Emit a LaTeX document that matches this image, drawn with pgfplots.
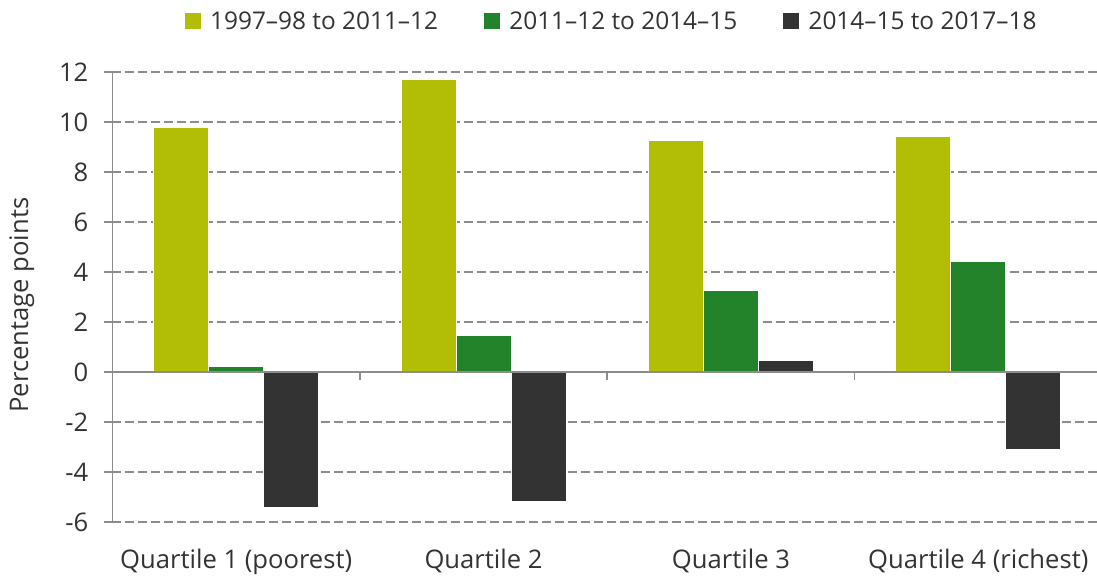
\documentclass[border=0pt]{standalone}
\usepackage{pgfplots}
\pgfplotsset{compat=1.18}
\usepackage{fontspec}
\setmainfont{Open Sans}
\usetikzlibrary{calc}
\definecolor{c1}{HTML}{B2BE06}
\definecolor{c2}{HTML}{23832B}
\definecolor{c3}{HTML}{333333}
\definecolor{gridc}{HTML}{8C8C8C}
\definecolor{txt}{HTML}{333333}
\pgfplotsset{mylegend/.style={legend image code/.code={\fill[##1,draw=none] (0bp,-8bp) rectangle (16bp,8bp); \path (23bp,0bp);}}}
\begin{document}
\begin{tikzpicture}[font=\fontsize{25.7}{30}\selectfont]
\begin{axis}[
  scale only axis, width=984.5bp, height=450bp,
  xmin=-0.5, xmax=3.48, ymin=-6, ymax=12,
  ybar=0pt, bar width=55bp,
  ytick={-6,-4,...,12},
  xtick={0,1,2,3},
  xticklabels={Quartile 1 (poorest),Quartile 2,Quartile 3,Quartile 4 (richest)},
  axis y line*=left, axis x line*=bottom,
  x axis line style={draw=none},
  xtick style={draw=none},
  y axis line style={gridc, line width=1.5bp},
  ytick style={gridc, line width=1.5bp},
  tick align=outside, major tick length=8bp,
  ymajorgrids, grid style={gridc, line width=1.5bp, dash pattern=on 9bp off 4bp},
  /pgf/number format/assume math mode=true,
  tick label style={text=txt},
  yticklabel style={inner sep=0pt, xshift=-16bp},
  xticklabel style={inner sep=0pt, anchor=base, yshift=-38bp},
  ylabel={Percentage points},
  ylabel style={at={(axis description cs:-0.092,0.482)}, anchor=center, text=txt},
  legend columns=3,
  legend style={draw=none, fill=none, at={(axis description cs:0.507,1.113)}, anchor=center,
    font=\fontsize{24.5}{29}\selectfont,
    /tikz/every even column/.append style={column sep=44bp}, text=txt},
  legend cell align=left,
]
\addplot[fill=c1, draw=white, line width=0.6bp, mylegend] coordinates {(0,9.77) (1,11.7) (2,9.26) (3,9.42)};
\addplot[fill=c2, draw=white, line width=0.6bp, mylegend] coordinates {(0,0.22) (1,1.45) (2,3.27) (3,4.41)};
\addplot[fill=c3, draw=white, line width=0.6bp, mylegend] coordinates {(0,-5.43) (1,-5.18) (2,0.45) (3,-3.11)};
\legend{1997–98 to 2011–12, 2011–12 to 2014–15, 2014–15 to 2017–18}
\draw[gridc, line width=1.5bp] (axis cs:-0.5,0) -- (axis cs:3.48,0);
\draw[gridc, line width=1.5bp] (axis cs:0.5,0) -- ([yshift=-8bp]axis cs:0.5,0);
\draw[gridc, line width=1.5bp] (axis cs:1.5,0) -- ([yshift=-8bp]axis cs:1.5,0);
\draw[gridc, line width=1.5bp] (axis cs:2.5,0) -- ([yshift=-8bp]axis cs:2.5,0);
\coordinate (bl) at (rel axis cs:0,0);
\coordinate (tr) at (rel axis cs:1,1);
\end{axis}
\pgfresetboundingbox
\path ($(bl)+(-112.5bp,-57bp)$) rectangle ($(tr)+(0bp,72bp)$);
\end{tikzpicture}
\end{document}
